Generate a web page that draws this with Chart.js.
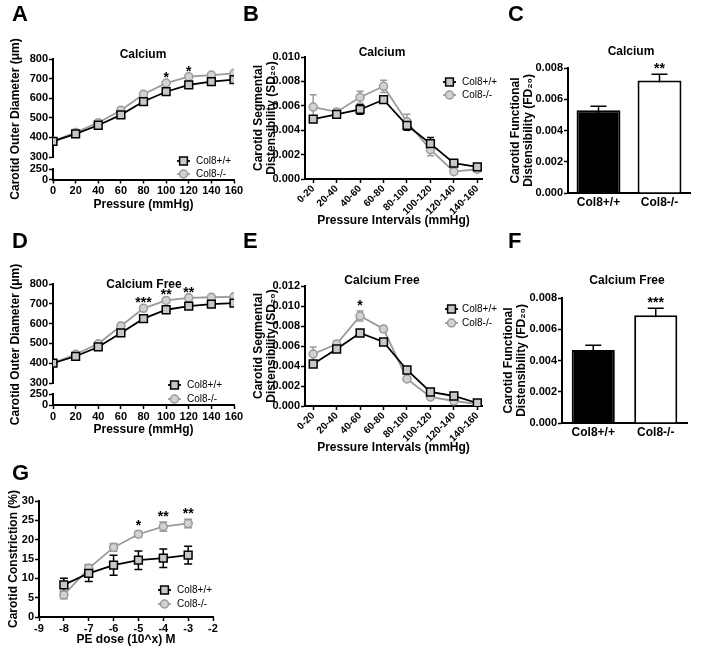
<!DOCTYPE html>
<html lang="en">
<head>
  <meta charset="UTF-8" />
  <title>Col8 carotid mechanics</title>
  <script src="https://cdn.jsdelivr.net/npm/chart.js"></script>
  <style>
    body { margin: 0; background: #fff; }
    #fig { position: relative; width: 721px; height: 654px; overflow: hidden; }
    #fig canvas { position: absolute; left: 0; top: 0; }
    .letter { position: absolute; font: bold 22px "Liberation Sans", Arial, sans-serif; line-height: 1; }
  </style>
</head>
<body>
  <div id="fig">
    <canvas id="chartA" width="721" height="654"></canvas>
    <canvas id="chartB" width="721" height="654"></canvas>
    <canvas id="chartC" width="721" height="654"></canvas>
    <canvas id="chartD" width="721" height="654"></canvas>
    <canvas id="chartE" width="721" height="654"></canvas>
    <canvas id="chartF" width="721" height="654"></canvas>
    <canvas id="chartG" width="721" height="654"></canvas>
    <div class="letter" style="left:12px;top:3px">A</div>
    <div class="letter" style="left:243px;top:3px">B</div>
    <div class="letter" style="left:508px;top:3px">C</div>
    <div class="letter" style="left:12px;top:230px">D</div>
    <div class="letter" style="left:243px;top:230px">E</div>
    <div class="letter" style="left:508px;top:230px">F</div>
    <div class="letter" style="left:12px;top:462px">G</div>
  </div>

  <script>
    // ---- data ----
    const pressure = [0, 20, 40, 60, 80, 100, 120, 140, 160];
    const intervals = ['0-20', '20-40', '40-60', '60-80', '80-100', '100-120', '120-140', '140-160'];
    const genotypes = ['Col8+/+', 'Col8-/-'];
    const peDose = [-8, -7, -6, -5, -4, -3];

    // A - outer diameter, calcium
    const diaCaWT = [380, 418, 462, 515, 583, 633, 668, 685, 695];
    const diaCaKO = [380, 425, 475, 538, 620, 677, 710, 718, 727];
    const diaCaSig = ['', '', '', '', '', '*', '*', '', ''];

    // B - segmental distensibility, calcium
    const sdCaWT = [0.0049, 0.0053, 0.0057, 0.0065, 0.0044, 0.0029, 0.0013, 0.0010];
    const sdCaWTErr = [0.0002, 0.0001, 0.0004, 0.0003, 0.0004, 0.0005, 0.0002, 0.0001];
    const sdCaKO = [0.0059, 0.0055, 0.0067, 0.0076, 0.0047, 0.0024, 0.0006, 0.0008];
    const sdCaKOErr = [0.0010, 0.0002, 0.0005, 0.0005, 0.0006, 0.0005, 0.0002, 0.0002];

    // C - functional distensibility, calcium
    const fdCa = [0.0053, 0.0072];
    const fdCaErr = [0.00025, 0.0004];
    const fdCaSig = ['', '**'];

    // D - outer diameter, calcium free
    const diaFreeWT = [400, 435, 482, 553, 625, 670, 688, 698, 703];
    const diaFreeKO = [400, 445, 498, 588, 677, 717, 730, 733, 735];
    const diaFreeSig = ['', '', '', '', '***', '**', '**', '', ''];

    // E - segmental distensibility, calcium free
    const sdFreeWT = [0.0042, 0.0057, 0.0073, 0.0064, 0.0036, 0.0014, 0.0010, 0.0003];
    const sdFreeWTErr = [0.0002, 0.0003, 0.0003, 0.0002, 0.0002, 0.0001, 0.0001, 0.0001];
    const sdFreeKO = [0.0052, 0.0062, 0.0090, 0.0077, 0.0027, 0.0009, 0.0005, 0.0002];
    const sdFreeKOErr = [0.0007, 0.0003, 0.0005, 0.0003, 0.0002, 0.0001, 0.0001, 0.0001];
    const sdFreeSig = ['', '', '*', '', '', '', '', ''];

    // F - functional distensibility, calcium free
    const fdFree = [0.00467, 0.0069];
    const fdFreeErr = [0.0003, 0.00045];
    const fdFreeSig = ['', '***'];

    // G - PE constriction
    const conWT = [8.3, 11.3, 13.4, 14.7, 15.2, 16.0];
    const conWTErr = [1.7, 2.1, 2.6, 2.4, 2.4, 2.3];
    const conKO = [5.7, 12.6, 18.0, 21.4, 23.4, 24.2];
    const conKOErr = [1.0, 1.0, 1.0, 0.8, 1.2, 1.1];
    const conSig = ['', '', '', '*', '**', '**'];

    const intervalIdx = intervals.map((_, i) => i);

    // ---- shared styling ----
    const FONT = "'Liberation Sans', Arial, Helvetica, sans-serif";
    Chart.defaults.font.family = FONT;
    Chart.defaults.color = '#000';

    const tickFont = { size: 11, weight: 'bold' };
    const titleFont = { size: 12, weight: 'bold', lineHeight: 13 / 12 };

    function yOf(d) { return typeof d === 'object' ? d.y : d; }

    // error bars under the markers, stars / titles / legend on top
    const decor = {
      id: 'decor',
      beforeDatasetsDraw(chart, args, opts) {
        const ctx = chart.ctx;
        const half = (opts.capWidth || 7) / 2;
        chart.data.datasets.forEach((ds, i) => {
          if (!ds.errors) return;
          const meta = chart.getDatasetMeta(i);
          const ys = chart.scales[meta.yAxisID];
          ctx.save();
          ctx.strokeStyle = ds.errorColor || ds.borderColor;
          ctx.lineWidth = 1.5;
          meta.data.forEach((el, j) => {
            const v = yOf(ds.data[j]), e = ds.errors[j];
            const top = ys.getPixelForValue(v + e);
            const bot = ys.getPixelForValue(v - e);
            ctx.beginPath();
            ctx.moveTo(el.x, top); ctx.lineTo(el.x, bot);
            ctx.moveTo(el.x - half, top); ctx.lineTo(el.x + half, top);
            ctx.moveTo(el.x - half, bot); ctx.lineTo(el.x + half, bot);
            ctx.stroke();
          });
          ctx.restore();
        });
      },
      afterDraw(chart, args, opts) {
        const ctx = chart.ctx;
        ctx.save();
        ctx.fillStyle = '#000';
        ctx.textAlign = 'center';
        if (opts.title) {
          ctx.font = 'bold 12px ' + FONT;
          ctx.textBaseline = 'middle';
          ctx.fillText(opts.title.text, opts.title.x, opts.title.y);
        }
        if (opts.yTitle) {
          ctx.save();
          ctx.font = 'bold 12px ' + FONT;
          ctx.textBaseline = 'middle';
          ctx.translate(opts.yTitle.x, opts.yTitle.y);
          ctx.rotate(-Math.PI / 2);
          ctx.fillText(opts.yTitle.text, 0, 0);
          ctx.restore();
        }
        ctx.font = 'bold 14px ' + FONT;
        ctx.textBaseline = 'alphabetic';
        chart.data.datasets.forEach((ds, i) => {
          if (!ds.stars) return;
          const meta = chart.getDatasetMeta(i);
          const ys = chart.scales[meta.yAxisID];
          meta.data.forEach((el, j) => {
            if (!ds.stars[j]) return;
            const v = yOf(ds.data[j]) + (ds.errors ? ds.errors[j] : 0);
            ctx.fillText(ds.stars[j], el.x, ys.getPixelForValue(v) - 1);
          });
        });
        if (opts.legend) {
          const L = opts.legend;
          ctx.font = '10px ' + FONT;
          ctx.textAlign = 'left';
          ctx.textBaseline = 'middle';
          chart.data.datasets.forEach((ds, i) => {
            const y = L.y + i * L.dy;
            ctx.strokeStyle = ds.borderColor;
            ctx.lineWidth = ds.borderWidth;
            ctx.beginPath(); ctx.moveTo(L.x, y); ctx.lineTo(L.x + 13, y); ctx.stroke();
            ctx.fillStyle = ds.backgroundColor;
            ctx.lineWidth = ds.pointBorderWidth;
            Chart.helpers.drawPoint(ctx, { pointStyle: ds.pointStyle, radius: ds.pointRadius, borderWidth: ds.pointBorderWidth, rotation: 0 }, L.x + 6.5, y);
            ctx.fillStyle = '#000';
            ctx.fillText(ds.label, L.tx, y);
          });
        }
        ctx.restore();
      }
    };
    Chart.register(decor);

    function fixW(w) { return s => { s.width = w; }; }
    function fixH(h) { return s => { s.height = h; }; }

    // GraphPad-like axis: thick black spine, short outward ticks, no grid
    function axis(opts) {
      return Object.assign({
        border: { color: '#000', width: 2 },
        grid: { drawOnChartArea: false, color: '#000', tickLength: 4, tickWidth: 1.5 }
      }, opts, {
        ticks: Object.assign({ color: '#000', font: tickFont, padding: 1, autoSkip: false, maxRotation: 0 }, opts.ticks)
      });
    }
    function axTitle(text) {
      return { display: true, text: text, font: titleFont, padding: 0, color: '#000' };
    }
    function gapAxis(stack, w) {
      return {
        type: 'linear', position: 'left', stack: stack, stackWeight: w, weight: 2, min: 0, max: 1,
        ticks: { display: false }, grid: { display: false }, border: { display: false }, afterFit: fixW(33)
      };
    }

    function wtSet(xs, ys, err, stars) {
      return {
        label: 'Col8+/+', data: xs.map((x, i) => ({ x: x, y: ys[i] })), yAxisID: 'y',
        borderColor: '#000', backgroundColor: '#c8c8c8', borderWidth: 1.8,
        pointStyle: 'rect', pointRadius: 5.5, pointBorderWidth: 1.5, errors: err, stars: stars
      };
    }
    function koSet(xs, ys, err, stars) {
      return {
        label: 'Col8-/-', data: xs.map((x, i) => ({ x: x, y: ys[i] })), yAxisID: 'y',
        borderColor: '#9a9a9a', backgroundColor: '#d2d2d2', borderWidth: 1.8,
        pointStyle: 'circle', pointRadius: 4, pointBorderWidth: 1.5, errors: err, stars: stars
      };
    }

    function base(padding, scales, decorOpts) {
      return {
        responsive: false,
        animation: false,
        layout: { padding: padding },
        scales: scales,
        plugins: { legend: { display: false }, tooltip: { enabled: false }, decor: decorOpts }
      };
    }

    // broken-axis diameter panels (A, D)
    function diameterChart(id, wt, ko, sig, box) {
      new Chart(id, {
        type: 'line',
        data: { datasets: [wtSet(pressure, wt), koSet(pressure, ko, null, sig)] },
        options: base({ left: 20, top: box.top, right: 487, bottom: box.bottom }, {
          x: axis({ type: 'linear', min: 0, max: 160, ticks: { stepSize: 20 }, title: axTitle('Pressure (mmHg)'), afterFit: fixH(box.xh) }),
          y: axis({ type: 'linear', position: 'left', stack: id, stackWeight: box.w[0], weight: 3, min: 300, max: 800, ticks: { stepSize: 100 }, afterFit: fixW(33) }),
          yGap: gapAxis(id, box.w[1]),
          yLow: axis({ type: 'linear', position: 'left', stack: id, stackWeight: box.w[2], weight: 1, min: 0, max: 250, ticks: { stepSize: 250 }, afterFit: fixW(33) })
        }, box.decor)
      });
    }

    function distensChart(id, wt, wtErr, ko, koErr, sig, yMax, box) {
      new Chart(id, {
        type: 'line',
        data: { datasets: [wtSet(intervalIdx, wt, wtErr), koSet(intervalIdx, ko, koErr, sig)] },
        options: base({ left: 252.5, top: box.top, right: 239, bottom: box.bottom }, {
          x: axis({
            type: 'linear', min: -0.35, max: 7.2,
            ticks: { stepSize: 1, includeBounds: false, maxRotation: 45, minRotation: 45, padding: 0,
                     font: { size: 10, weight: 'bold' }, callback: v => intervals[v] || '' },
            title: axTitle('Pressure Intervals (mmHg)'), afterFit: fixH(48.5)
          }),
          y: axis({
            type: 'linear', min: 0, max: yMax, ticks: { stepSize: 0.002, callback: v => v.toFixed(3) },
            title: axTitle(['Carotid Segmental', 'Distensibility (SD\u2082\u2080)']), afterFit: fixW(52.5)
          })
        }, box.decor)
      });
    }

    function fdChart(id, vals, errs, sig, box) {
      new Chart(id, {
        type: 'bar',
        data: {
          labels: genotypes,
          datasets: [{
            label: 'FD20', data: vals, errors: errs, stars: sig,
            backgroundColor: ['#000', '#fff'], borderColor: '#000', errorColor: '#000', borderWidth: 2,
            categoryPercentage: 1, barPercentage: box.barPct
          }]
        },
        options: base(box.pad, {
          x: axis({ grid: { display: false, drawTicks: false }, ticks: { font: { size: 12, weight: 'bold' }, padding: 2 }, afterFit: fixH(25) }),
          y: axis({
            min: 0, max: 0.008, ticks: { stepSize: 0.002, callback: v => v.toFixed(3) },
            title: axTitle(['Carotid Functional', 'Distensibility (FD\u2082\u2080)']), afterFit: fixW(box.yw)
          })
        }, box.decor)
      });
    }

    diameterChart('chartA', diaCaWT, diaCaKO, diaCaSig, {
      top: 59, bottom: 442.4, xh: 32.1, w: [98, 12, 10.5],
      decor: {
        title: { text: 'Calcium', x: 143, y: 55 },
        yTitle: { text: 'Carotid Outer Diameter (\u03bcm)', x: 16, y: 119 },
        legend: { x: 177, tx: 196, y: 161, dy: 13 }
      }
    });

    diameterChart('chartD', diaFreeWT, diaFreeKO, diaFreeSig, {
      top: 284, bottom: 217.4, xh: 31.6, w: [99, 11, 11],
      decor: {
        title: { text: 'Calcium Free', x: 144, y: 285 },
        yTitle: { text: 'Carotid Outer Diameter (\u03bcm)', x: 16, y: 344.5 },
        legend: { x: 168, tx: 187, y: 385, dy: 14 }
      }
    });

    distensChart('chartB', sdCaWT, sdCaWTErr, sdCaKO, sdCaKOErr, null, 0.010, {
      top: 57, bottom: 426.5,
      decor: { title: { text: 'Calcium', x: 382, y: 53 }, legend: { x: 443, tx: 462, y: 82, dy: 13 } }
    });

    distensChart('chartE', sdFreeWT, sdFreeWTErr, sdFreeKO, sdFreeKOErr, sdFreeSig, 0.012, {
      top: 286, bottom: 199.5,
      decor: { title: { text: 'Calcium Free', x: 382, y: 281 }, legend: { x: 445, tx: 462, y: 309, dy: 14 } }
    });

    fdChart('chartC', fdCa, fdCaErr, fdCaSig, {
      pad: { left: 509.5, top: 68, right: 31, bottom: 436 }, yw: 58.5, barPct: 0.72,
      decor: { title: { text: 'Calcium', x: 631, y: 52 }, capWidth: 16 }
    });

    fdChart('chartF', fdFree, fdFreeErr, fdFreeSig, {
      pad: { left: 502.5, top: 298, right: 34, bottom: 206 }, yw: 59.5, barPct: 0.69,
      decor: { title: { text: 'Calcium Free', x: 627, y: 281 }, capWidth: 16 }
    });

    new Chart('chartG', {
      type: 'line',
      data: { datasets: [wtSet(peDose, conWT, conWTErr), koSet(peDose, conKO, conKOErr, conSig)] },
      options: base({ left: 7.4, top: 501, right: 508, bottom: 7.4 }, {
        x: axis({ type: 'linear', min: -9, max: -2, ticks: { stepSize: 1 }, title: axTitle('PE dose (10^x) M'), afterFit: fixH(29.6) }),
        y: axis({ type: 'linear', min: 0, max: 30, ticks: { stepSize: 5 }, title: axTitle('Carotid Constriction (%)'), afterFit: fixW(31.6) })
      }, { legend: { x: 158, tx: 177, y: 590, dy: 14 }, capWidth: 8 })
    });
  </script>
</body>
</html>
